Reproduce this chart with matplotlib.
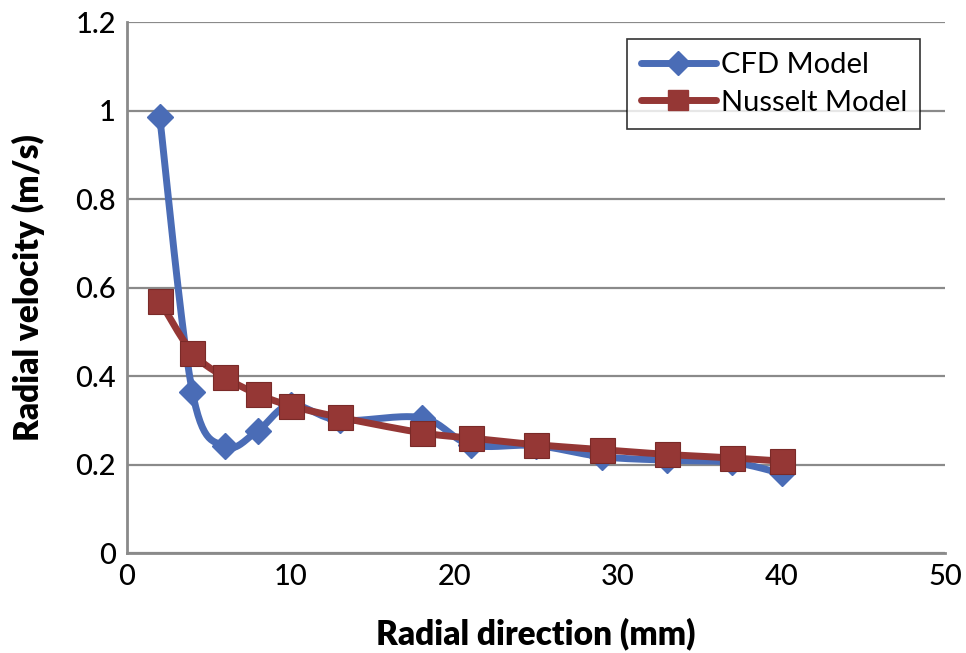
import numpy as np
import matplotlib
matplotlib.use("Agg")
import matplotlib.pyplot as plt
from matplotlib import font_manager
from matplotlib.lines import Line2D

# ---- data ----
cfd_x = [2, 4, 6, 8, 10, 13, 18, 21, 25, 29, 33, 37, 40]
cfd_y = [0.985, 0.363, 0.241, 0.277, 0.335, 0.300, 0.306, 0.245, 0.243, 0.218, 0.210, 0.205, 0.180]
nus_x = [2, 4, 6, 8, 10, 13, 18, 21, 25, 29, 33, 37, 40]
nus_y = [0.570, 0.453, 0.397, 0.359, 0.333, 0.307, 0.272, 0.260, 0.245, 0.234, 0.223, 0.215, 0.208]
x_ticks = [0, 10, 20, 30, 40, 50]
y_ticks = [0, 0.2, 0.4, 0.6, 0.8, 1.0, 1.2]
y_tick_labels = ["0", "0.2", "0.4", "0.6", "0.8", "1", "1.2"]

names = {f.name for f in font_manager.fontManager.ttflist}
fam = "Lato" if "Lato" in names else "DejaVu Sans"
plt.rcParams['font.family'] = [fam, 'DejaVu Sans']


def smooth(xs, ys, n=30):
    # Bezier smoothing for rendering (like Excel smoothed lines)
    xs = np.asarray(xs, float); ys = np.asarray(ys, float)
    P = np.column_stack([xs, ys])
    P = np.vstack([P[0], P, P[-1]])
    out = []
    for i in range(1, len(P) - 2):
        p0, p1, p2, p3 = P[i - 1], P[i], P[i + 1], P[i + 2]
        t = np.linspace(0, 1, n, endpoint=False)[:, None]
        c1 = p1 + (p2 - p0) / 6.0
        c2 = p2 - (p3 - p1) / 6.0
        seg = ((1 - t) ** 3) * p1 + 3 * ((1 - t) ** 2) * t * c1 + 3 * (1 - t) * t ** 2 * c2 + t ** 3 * p2
        out.append(seg)
    out.append(P[-2][None, :])
    out = np.vstack(out)
    return out[:, 0], out[:, 1]


blue = "#4A6CB6"
red = "#953735"

fig = plt.figure(figsize=(9.66, 6.53), dpi=100)
ax = fig.add_axes([0.1315, 0.153, 0.847, 0.813])

sx, sy = smooth(cfd_x, cfd_y)
ax.plot(sx, sy, color=blue, lw=5, solid_capstyle='round', zorder=3)
ax.plot(cfd_x, cfd_y, linestyle='none', marker='D', markersize=13, color=blue, zorder=4)
sx, sy = smooth(nus_x, nus_y)
ax.plot(sx, sy, color=red, lw=5, solid_capstyle='round', zorder=5)
ax.plot(nus_x, nus_y, linestyle='none', marker='s', markersize=18, color=red,
        markeredgecolor="#7a2a28", markeredgewidth=0.8, zorder=6)

ax.set_xlim(0, 50)
ax.set_ylim(0, 1.2)
ax.set_xticks(x_ticks)
ax.set_xticklabels([str(v) for v in x_ticks])
ax.set_yticks(y_ticks)
ax.set_yticklabels(y_tick_labels)
ax.yaxis.grid(True, color="#8a8a8a", lw=1.6)
ax.set_axisbelow(True)
for s in ['top', 'right']:
    ax.spines[s].set_visible(False)
for s in ['left', 'bottom']:
    ax.spines[s].set_color("#8a8a8a")
    ax.spines[s].set_linewidth(2.0)
ax.tick_params(axis='both', length=0, labelsize=21, pad=8, colors='black')
for lab in ax.get_xticklabels() + ax.get_yticklabels():
    lab.set_fontweight('medium')

ax.set_xlabel("Radial direction (mm)", fontsize=24, fontweight='heavy', labelpad=20)
ax.set_ylabel("Radial velocity (m/s)", fontsize=24, fontweight='heavy', labelpad=22)

h1 = Line2D([], [], color=blue, lw=5, marker='D', markersize=12, solid_capstyle='round')
h2 = Line2D([], [], color=red, lw=5, marker='s', markersize=14, solid_capstyle='round')
leg = ax.legend([h1, h2], ["CFD Model", "Nusselt Model"], loc='upper right',
                bbox_to_anchor=(0.98, 0.985), fontsize=21, frameon=True, fancybox=False,
                edgecolor='black', handlelength=2.6, handletextpad=0.15, borderpad=0.45,
                labelspacing=0.4, borderaxespad=0.3)
leg.get_frame().set_linewidth(1.2)
leg.set_zorder(10)

fig.savefig("out.png", dpi=100)
